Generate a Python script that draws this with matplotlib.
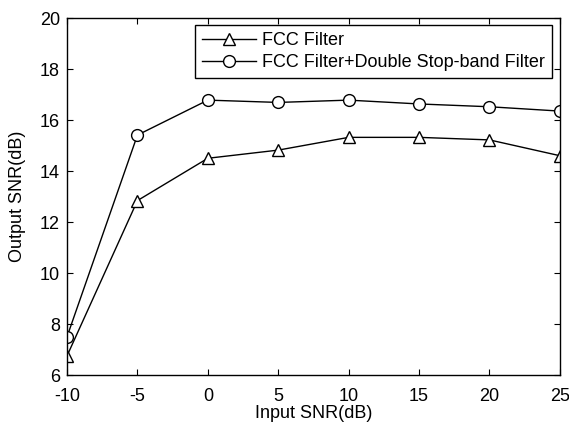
import matplotlib.pyplot as plt

plt.rcParams["font.family"] = ["Liberation Sans", "DejaVu Sans"]
plt.rcParams["axes.unicode_minus"] = False

input_snr = [-10, -5, 0, 5, 10, 15, 20, 25]
fcc = [6.75, 12.84, 14.5, 14.82, 15.32, 15.32, 15.22, 14.6]
fcc_double = [7.5, 15.41, 16.78, 16.69, 16.78, 16.63, 16.52, 16.35]
x_ticks = [-10, -5, 0, 5, 10, 15, 20, 25]
y_ticks = [6, 8, 10, 12, 14, 16, 18, 20]

fig = plt.figure(figsize=(5.69, 4.25), dpi=100)
ax = fig.add_axes([0.1178, 0.1176, 0.8662, 0.84])

ax.plot(input_snr, fcc, color="black", lw=1, marker="^", ms=9,
        mfc="white", mec="black", mew=1, label="FCC Filter")
ax.plot(input_snr, fcc_double, color="black", lw=1, marker="o", ms=8.5,
        mfc="white", mec="black", mew=1,
        label="FCC Filter+Double Stop-band Filter")

ax.set_xlim(-10, 25)
ax.set_ylim(6, 20)
ax.set_xticks(x_ticks)
ax.set_yticks(y_ticks)
ax.tick_params(direction="in", top=True, right=True, length=4, labelsize=13)
ax.tick_params(axis="x", pad=9)
ax.tick_params(axis="y", pad=5)
for s in ax.spines.values():
    s.set_linewidth(1)
ax.set_xlabel("Input SNR(dB)", fontsize=13, labelpad=0)
ax.set_ylabel("Output SNR(dB)", fontsize=13, labelpad=10)

leg = ax.legend(loc="upper right", bbox_to_anchor=(0.984, 0.98), fontsize=13,
                fancybox=False, edgecolor="black", framealpha=1,
                borderpad=0.4, labelspacing=0.25, handlelength=3.0,
                handletextpad=0.3, borderaxespad=0)
leg.get_frame().set_linewidth(1)

fig.savefig("out.png", dpi=100)
